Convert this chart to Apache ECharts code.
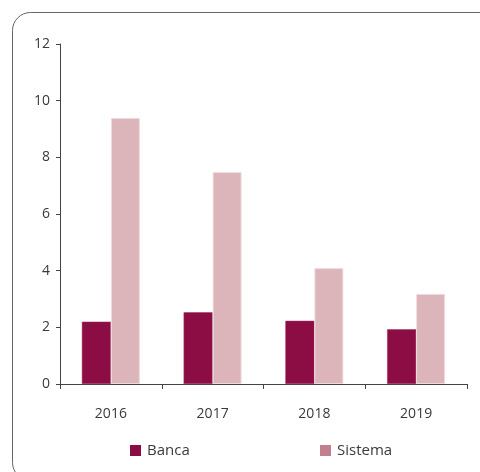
<!DOCTYPE html>
<html>
<head>
<meta charset="utf-8">
<script src="https://cdn.jsdelivr.net/npm/echarts@6/dist/echarts.min.js"></script>
<style>
  html, body { margin: 0; padding: 0; background: #fff; }
  #chart { width: 480px; height: 472px; }
</style>
</head>
<body>
<div id="chart"></div>
<script>
// Years on the category axis
const years = ['2016', '2017', '2018', '2019'];
// Values per series
const banca = [2.2, 2.53, 2.23, 1.93];
const sistema = [9.39, 7.48, 4.09, 3.18];
// Value axis ticks
const yMin = 0, yMax = 12, yStep = 2;

const textColor = '#3a3a3a';
const font = '"Open Sans", "Noto Sans", sans-serif';

const legendBase = {
  top: 443, padding: 0,
  itemWidth: 11, itemHeight: 11, itemGap: 5,
  icon: 'rect',
  textStyle: { color: textColor, fontSize: 15, fontFamily: font, padding: [0, 0, 0, 1] }
};

const chart = echarts.init(document.getElementById('chart'), null, { renderer: 'canvas' });
chart.setOption({
  animation: false,
  backgroundColor: '#fff',
  graphic: [{
    type: 'rect',
    shape: { x: 12.5, y: 12.5, width: 500, height: 468, r: [18, 0, 0, 18] },
    style: { fill: 'none', stroke: '#666', lineWidth: 1 },
    silent: true
  }],
  grid: { left: 60, right: 13, top: 44, bottom: 88, containLabel: false },
  legend: [
    Object.assign({}, legendBase, {
      left: 130,
      data: [{ name: 'Banca', itemStyle: { color: '#8c0c44', borderWidth: 0 } }]
    }),
    Object.assign({}, legendBase, {
      left: 320,
      data: [{ name: 'Sistema', itemStyle: { color: '#c47f8e', borderWidth: 0 } }]
    })
  ],
  xAxis: {
    type: 'category',
    data: years,
    axisLine: { lineStyle: { color: '#444', width: 1 } },
    axisTick: { show: true, length: 5, lineStyle: { color: '#444' } },
    axisLabel: { color: textColor, fontSize: 14, fontFamily: font, margin: 23 }
  },
  yAxis: {
    type: 'value',
    min: yMin, max: yMax, interval: yStep,
    axisLine: { show: true, lineStyle: { color: '#444', width: 1 } },
    axisTick: { show: true, length: 4, lineStyle: { color: '#444' } },
    splitLine: { show: false },
    axisLabel: { color: textColor, fontSize: 14, fontFamily: font, margin: 10 }
  },
  series: [{
    name: 'Banca',
    type: 'bar',
    data: banca,
    barGap: '0%',
    barCategoryGap: '43%',
    itemStyle: { color: '#8c0c44', borderColor: '#a33063', borderWidth: 0.5 }
  }, {
    name: 'Sistema',
    type: 'bar',
    data: sistema,
    barGap: '0%',
    barCategoryGap: '43%',
    itemStyle: { color: '#dbb5ba', borderColor: '#f0dadd', borderWidth: 1 }
  }]
});
</script>
</body>
</html>
